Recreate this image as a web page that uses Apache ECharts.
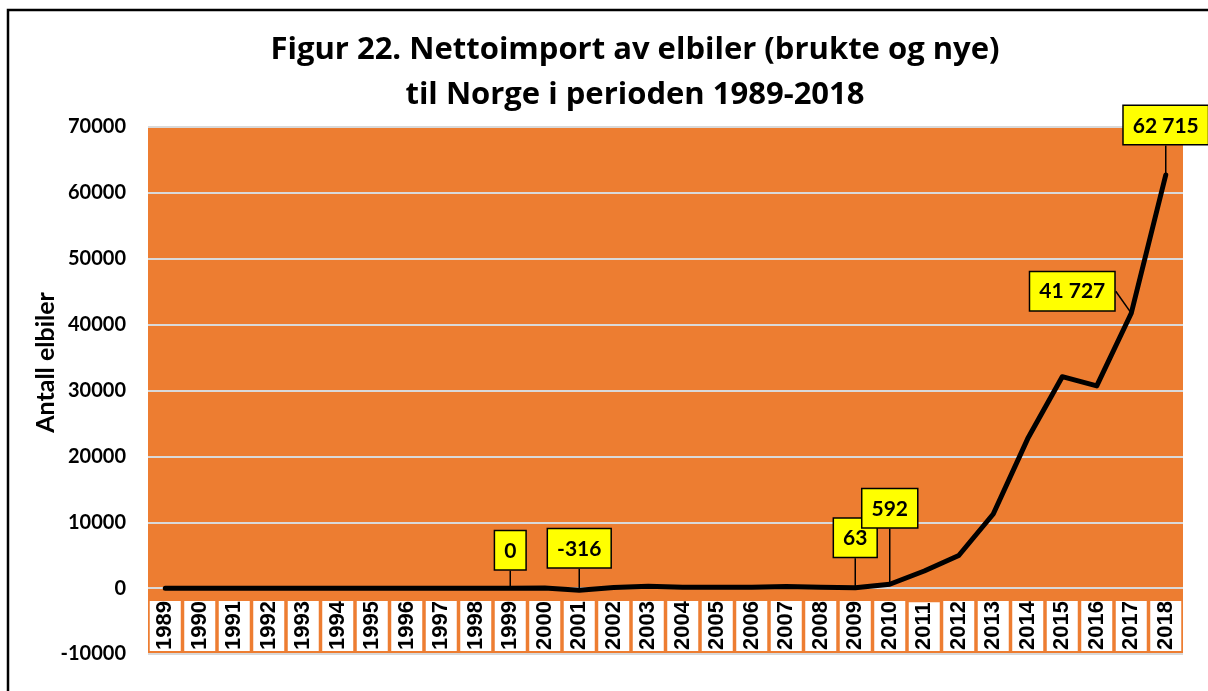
<!DOCTYPE html>
<html>
<head>
<meta charset="utf-8">
<script src="https://cdn.jsdelivr.net/npm/echarts@6/dist/echarts.min.js"></script>
<style>
  html, body { margin: 0; padding: 0; background: #fff; }
  #main { width: 1208px; height: 691px; }
</style>
</head>
<body>
<div id="main"></div>
<script>
// årstall (kategorier)
var years = ['1989', '1990', '1991', '1992', '1993', '1994', '1995', '1996', '1997', '1998',
    '1999', '2000', '2001', '2002', '2003', '2004', '2005', '2006', '2007', '2008',
    '2009', '2010', '2011', '2012', '2013', '2014', '2015', '2016', '2017', '2018'];
// nettoimport av elbiler
var nettoimport = [0, 0, 0, 0, 0, 0, 0, 0, 0, 0,
    0, 20, -316, 100, 280, 150, 120, 150, 230, 150,
    63, 592, 2600, 4950, 11250, 22700, 32100, 30700, 41727, 62715];
// år som har etikett
var labelYears = ['1999', '2001', '2009', '2010', '2017', '2018'];
var yTicks = [-10000, 0, 10000, 20000, 30000, 40000, 50000, 60000, 70000];

var bold = 'Lato';

function fmt(v) {
    return String(v).replace(/\B(?=(\d{3})+(?!\d))/g, ' ');
}

var labelDist = { '1999': 18, '2001': 22, '2009': 30, '2010': 56, '2017': 16, '2018': 30 };

var seriesData = nettoimport.map(function (v, i) {
    var y = years[i];
    if (labelYears.indexOf(y) < 0) return v;
    return {
        value: v,
        label: {
            show: true,
            position: y === '2017' ? 'left' : 'top',
            distance: labelDist[y]
        }
    };
});

var myChart = echarts.init(document.getElementById('main'));
var option = {
    animation: false,
    title: {
        text: 'Figur 22. Nettoimport av elbiler (brukte og nye)\ntil Norge i perioden 1989-2018',
        left: 630,
        top: 23,
        textAlign: 'center',
        textStyle: {
            fontFamily: 'Open Sans',
            fontWeight: 'bold',
            fontSize: 31,
            lineHeight: 45,
            color: '#000'
        }
    },
    graphic: [{
        type: 'rect',
        shape: { x: 8, y: 10, width: 1400, height: 900 },
        style: { fill: 'none', stroke: '#000', lineWidth: 2.5 },
        silent: true
    }],
    grid: {
        left: 148,
        right: 25,
        top: 127,
        bottom: 37,
        show: true,
        backgroundColor: '#ED7D31',
        borderWidth: 0
    },
    xAxis: {
        type: 'category',
        data: years,
        boundaryGap: true,
        axisLine: { show: false, onZero: false },
        axisTick: { show: false },
        axisLabel: {
            inside: true,
            interval: 0,
            rotate: 90,
            margin: 3,
            fontFamily: "Liberation Sans",
            fontWeight: 'bold',
            fontSize: 22,
            lineHeight: 29,
            color: '#000',
            backgroundColor: '#fff',
            padding: [1, 0, 1, 1]
        }
    },
    yAxis: {
        type: 'value',
        min: yTicks[0],
        max: yTicks[yTicks.length - 1],
        interval: 10000,
        name: 'Antall elbiler',
        nameLocation: 'middle',
        nameGap: 90,
        nameMoveOverlap: false,
        nameTextStyle: {
            fontFamily: bold,
            fontWeight: 'bold',
            fontSize: 25,
            color: '#000',
            padding: [0, 0, 0, 56]
        },
        axisLine: { show: false },
        axisTick: { show: false },
        axisLabel: {
            margin: 22,
            fontFamily: bold,
            fontWeight: 'bold',
            fontSize: 20,
            color: '#000',
            formatter: function (v) { return String(v); }
        },
        splitLine: { lineStyle: { color: '#d9d9d9', width: 2 } }
    },
    series: [{
        type: 'line',
        data: seriesData,
        symbol: 'circle',
        symbolSize: 2,
        showSymbol: true,
        itemStyle: { color: '#000' },
        lineStyle: { color: '#000', width: 5, cap: 'round', join: 'round' },
        label: {
            show: false,
            formatter: function (p) { return fmt(p.value); },
            fontFamily: bold,
            fontWeight: 'bold',
            fontSize: 21,
            lineHeight: 24,
            color: '#000',
            backgroundColor: '#ffff00',
            borderColor: '#000',
            borderWidth: 1.5,
            padding: [8, 9, 6, 9]
        },
        labelLine: {
            show: true,
            lineStyle: { color: '#000', width: 1.5 }
        },
        labelLayout: function (params) {
            if (years[params.dataIndex] === '2017') return { dy: -22 };
            return {};
        }
    }]
};
myChart.setOption(option);
</script>
</body>
</html>
